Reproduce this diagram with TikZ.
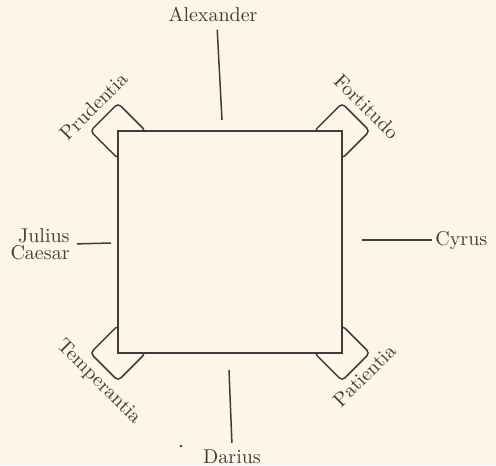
\documentclass[tikz,border=0pt]{standalone}
\usepackage{tikz}
\usepackage{xcolor}
\usetikzlibrary{shapes.geometric, positioning, calc}
\definecolor{tablepaper}{RGB}{251,246,231}
\definecolor{tableink}{RGB}{72,56,58}

\begin{document}
\begin{tikzpicture}[
    x=0.5pt, y=-0.5pt,
    ink/.style={draw=tableink, line width=0.75pt},
    chair/.style={ink, diamond, fill=tablepaper, minimum size=28pt,
                  inner sep=0pt, rounded corners=2pt},
    board/.style={ink, fill=tablepaper, minimum width=112pt,
                  minimum height=111pt, inner sep=0pt},
    hero/.style={font=\fontsize{10}{8.5}\selectfont, text=tableink,
                 inner sep=1.5pt, align=right},
    virtue/.style={font=\fontsize{10}{12}\selectfont, text=tableink}
  ]
    \fill[tablepaper] (0,0) rectangle (496,465);
    \useasboundingbox (0,0) rectangle (496,465);

    % chairs at the corners, half hidden under the table
    \node[chair] (chairpru) at (118,131) {};
    \node[chair] (chairfor) at (342,131) {};
    \node[chair] (chairtem) at (118,353) {};
    \node[chair] (chairpat) at (342,353) {};
    \node[board] (table) at (230,242) {};

    \node[virtue, rotate=45, anchor=south, inner sep=3.5pt] (pru) at (chairpru.north west) {Prudentia};
    \node[virtue, rotate=-45, anchor=south, inner sep=3.5pt] (fort) at (chairfor.north east) {Fortitudo};
    \node[virtue, rotate=-45, anchor=north, inner sep=2.5pt] (temp)
      at ($(chairtem.south west)!3.5pt!(chairtem.south)$) {Temperantia};
    \node[virtue, rotate=45, anchor=north, inner sep=2pt] (pat) at (chairpat.south east) {Patientia};

    % the four kings round the table
    \node[hero, anchor=base] (alex) at (213,22) {Alexander};
    \node[hero, anchor=east] (julius) at (73,244) {Julius\\Caesar};
    \node[hero, anchor=west] (cyrus) at (432,240) {Cyrus};
    \node[hero, anchor=base] (darius) at (232,463) {Darius};

    \coordinate (alexend) at (222,120);
    \coordinate (juliusend) at (111,243);
    \coordinate (cyrusend) at (362,240);
    \coordinate (dariusend) at (229,370);

    \draw[ink, shorten <=2pt] ([xshift=2pt]alex.south) -- (alexend);
    \draw[ink, shorten <=2pt] (julius.east) -- (juliusend);
    \draw[ink] (cyrusend) -- (cyrus.west);
    \draw[ink, shorten >=1.5pt] (dariusend) -- (darius.north);

    \fill[tableink] (181,446) circle (0.7pt);
  \end{tikzpicture}
\end{document}
